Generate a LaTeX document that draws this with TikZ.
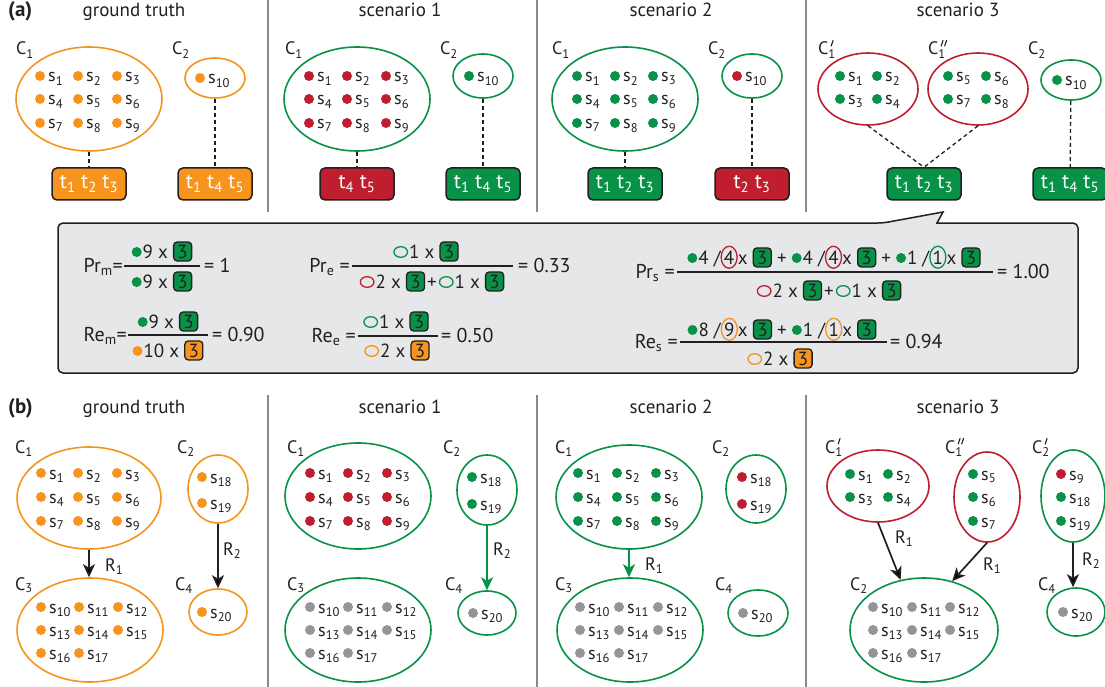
\documentclass[tikz,border=0pt]{standalone}
\usepackage{fontspec}
\setmainfont{PT Sans}
\usetikzlibrary{shapes.geometric,arrows.meta}
\definecolor{corange}{HTML}{F7941D}
\definecolor{cred}{HTML}{BE1E2D}
\definecolor{cgreen}{HTML}{079247}
\definecolor{cgray}{HTML}{939598}
\definecolor{cline}{HTML}{8A8A8A}
\definecolor{cbg}{HTML}{E6E7E8}
\definecolor{cdark}{HTML}{231F20}
% inline formula symbols
\newcommand\Fdot[1]{\tikz[x=1pt,y=1pt,baseline=-6pt]\fill[#1] (0,0) circle (5pt);}
\newcommand\Foell[1]{\tikz[x=1pt,y=1pt,baseline=-6pt]\draw[#1,line width=1.3pt] (0,0) ellipse [x radius=6.8pt, y radius=5.3pt];}
\newcommand\Fbox[1]{\tikz[x=1pt,y=1pt,baseline=0pt]\node[anchor=base, draw=cdark, fill=#1, line width=1.3pt, rounded corners=3.5pt, inner sep=0pt, minimum width=18pt, minimum height=19pt] (fbx) at (0,0) {3};}
\newcommand\Fcirc[2]{\tikz[x=1pt,y=1pt,baseline=0pt]\node[anchor=base, ellipse, draw=#1, line width=1.3pt, inner sep=0pt, minimum width=16pt, minimum height=22pt] (fcx) at (0,0) {#2};}
\newcommand\SD[4]{\fill[#1] (#2,#3) circle (5pt); \node[slab] at (#2+8,#3+6) {s\textsubscript{#4}};}
\newcommand\TT[3]{t\textsubscript{#1}\ t\textsubscript{#2}\ t\textsubscript{#3}}
\newcommand\Pl{\kern2pt+\kern2pt}
% prime strokes for a label whose base west is at (#1,#2)
\newcommand\PrA[2]{\draw[prm] (#1+15,#2-14.5) -- (#1+13.2,#2-9);}
\newcommand\PrB[2]{\draw[prm] (#1+15,#2-14.5) -- (#1+13.2,#2-9); \draw[prm] (#1+18.5,#2-14.5) -- (#1+16.7,#2-9);}
\begin{document}
\begin{tikzpicture}[x=1pt,y=-1pt,
  ttl/.style={font=\fontsize{19}{22}\selectfont, anchor=base, inner sep=0pt, text=cdark},
  plab/.style={font=\fontsize{21}{24}\selectfont\bfseries, anchor=base west, inner sep=0pt, text=cdark},
  clab/.style={font=\fontsize{18}{20}\selectfont, anchor=base west, inner sep=0pt, text=cdark},
  slab/.style={font=\fontsize{18}{20}\selectfont, text=cdark, anchor=base west, inner sep=0pt},
  prm/.style={draw=cdark, line width=1.1pt, line cap=round},
  cl/.style={ellipse, draw=#1, line width=1.6pt, inner sep=0pt},
  tb/.style={draw=cdark, fill=#1, line width=1.5pt, rounded corners=5pt, minimum width=74pt, minimum height=32pt, inner sep=0pt, text=white, font=\fontsize{21}{24}\selectfont},
  dl/.style={draw=cdark, line width=1.3pt, dash pattern=on 4pt off 3pt},
  ar/.style={draw=#1, line width=1.7pt, -{Stealth[length=13pt,width=12pt,inset=3.5pt]}},
  sepl/.style={draw=cline, line width=1.3pt},
  ff/.style={font=\fontsize{19}{22}\selectfont, inner sep=0pt, text=cdark},
  fr/.style={font=\fontsize{20}{22}\selectfont, inner sep=0pt, text=cdark},
  fl/.style={draw=cdark, line width=1.4pt}
]
\useasboundingbox (0,0) rectangle (1105,687);
\fill[white] (0,0) rectangle (1105,687);
\clip (0,0) rectangle (1105,687);

% ================= (a) =================
\node[plab] (pa) at (8,17) {(a)};
\node[ttl] (ta0) at (134,17) {ground truth};
\node[ttl] (ta1) at (400,17) {scenario 1};
\node[ttl] (ta2) at (671,17) {scenario 2};
\node[ttl] (ta3) at (958,17) {scenario 3};
\draw[sepl] (268,0) -- (268,212);
\draw[sepl] (537,0) -- (537,212);
\draw[sepl] (806,0) -- (806,212);

% ground truth
\node[clab] (la01) at (16,55) {C\textsubscript{1}};
\node[cl=corange, minimum width=146pt, minimum height=104pt] (ga1) at (89,99) {};
\SD{corange}{40}{76}{1} \SD{corange}{78}{76}{2} \SD{corange}{117}{76}{3}
\SD{corange}{40}{99}{4} \SD{corange}{78}{99}{5} \SD{corange}{117}{99}{6}
\SD{corange}{40}{123}{7} \SD{corange}{78}{123}{8} \SD{corange}{117}{123}{9}
\node[clab] (la02) at (172,55) {C\textsubscript{2}};
\node[cl=corange, minimum width=60pt, minimum height=40pt] (ga2) at (215,78) {};
\SD{corange}{200}{78}{10}
\node[tb=corange] (gb1) at (89,184) {\TT123};
\node[tb=corange] (gb2) at (215,184) {\TT145};
\draw[dl] (ga1) -- (gb1);
\draw[dl] (ga2) -- (gb2);

% scenario 1
\node[clab] (la11) at (285,55) {C\textsubscript{1}};
\node[cl=cgreen, minimum width=146pt, minimum height=104pt] (sa1) at (357,99) {};
\SD{cred}{309}{76}{1} \SD{cred}{347}{76}{2} \SD{cred}{386}{76}{3}
\SD{cred}{309}{99}{4} \SD{cred}{347}{99}{5} \SD{cred}{386}{99}{6}
\SD{cred}{309}{123}{7} \SD{cred}{347}{123}{8} \SD{cred}{386}{123}{9}
\node[clab] (la12) at (440,55) {C\textsubscript{2}};
\node[cl=cgreen, minimum width=60pt, minimum height=44pt] (sa2) at (483,76) {};
\SD{cgreen}{469}{76}{10}
\node[tb=cred] (sb1) at (357,184) {t\textsubscript{4}\ t\textsubscript{5}};
\node[tb=cgreen] (sb2) at (483,184) {\TT145};
\draw[dl] (sa1) -- (sb1);
\draw[dl] (sa2) -- (sb2);

% scenario 2
\node[clab] (la21) at (552,55) {C\textsubscript{1}};
\node[cl=cgreen, minimum width=146pt, minimum height=104pt] (ta1e) at (625,99) {};
\SD{cgreen}{577}{76}{1} \SD{cgreen}{615}{76}{2} \SD{cgreen}{653}{76}{3}
\SD{cgreen}{577}{99}{4} \SD{cgreen}{615}{99}{5} \SD{cgreen}{653}{99}{6}
\SD{cgreen}{577}{123}{7} \SD{cgreen}{615}{123}{8} \SD{cgreen}{653}{123}{9}
\node[clab] (la22) at (708,55) {C\textsubscript{2}};
\node[cl=cgreen, minimum width=60pt, minimum height=44pt] (ta2e) at (752,76) {};
\SD{cred}{737}{76}{10}
\node[tb=cgreen] (tb1) at (625,184) {\TT123};
\node[tb=cred] (tb2) at (752,184) {t\textsubscript{2}\ t\textsubscript{3}};
\draw[dl] (ta1e) -- (tb1);
\draw[dl] (ta2e) -- (tb2);

% scenario 3
\node[clab] (la31) at (818,55) {C\textsubscript{1}};
\PrA{818}{55}
\node[cl=cred, minimum width=100pt, minimum height=72pt] (ua1) at (868,89) {};
\SD{cgreen}{840}{76}{1} \SD{cgreen}{877}{76}{2}
\SD{cgreen}{840}{99}{3} \SD{cgreen}{877}{99}{4}
\node[clab] (la32) at (928,55) {C\textsubscript{1}};
\PrB{928}{55}
\node[cl=cred, minimum width=100pt, minimum height=72pt] (ua2) at (978,89) {};
\SD{cgreen}{948}{76}{5} \SD{cgreen}{986}{76}{6}
\SD{cgreen}{948}{99}{7} \SD{cgreen}{986}{99}{8}
\node[clab] (la33) at (1028,55) {C\textsubscript{2}};
\node[cl=cgreen, minimum width=60pt, minimum height=40pt] (ua3) at (1071,80) {};
\SD{cgreen}{1057}{80}{10}
\node[tb=cgreen] (ub1) at (924,184) {\TT123};
\node[tb=cgreen] (ub2) at (1070,184) {\TT145};
\draw[dl] (ua1.south) -- (ub1.north);
\draw[dl] (ua2.south) -- (ub1.north);
\draw[dl] (ua3) -- (ub2);

% formula box
\draw[fill=cbg, draw=cdark, line width=1.5pt, rounded corners=5pt] (58,300) -- (58,223) -- (883,223) [sharp corners] -- (943,212) -- (937,223) [rounded corners=5pt] -- (1078,223) -- (1078,373) -- (58,373) -- cycle;

% Pr_m
\node[fr, anchor=base east] (prm) at (123,272) {Pr\textsubscript{m}=};
\draw[fl] (124,266) -- (200,266);
\node[ff, anchor=base] (prmn) at (162,258) {\Fdot{cgreen}\kern1pt9 x \Fbox{cgreen}};
\node[ff, anchor=base] (prmd) at (162,288) {\Fdot{cgreen}\kern1pt9 x \Fbox{cgreen}};
\node[fr, anchor=base west] (prmr) at (204,272) {= 1};
% Re_m
\node[fr, anchor=base east] (rem) at (127,341) {Re\textsubscript{m}=};
\draw[fl] (128,335) -- (208,335);
\node[ff, anchor=base] (remn) at (168,328) {\Fdot{cgreen}\kern1pt9 x \Fbox{cgreen}};
\node[ff, anchor=base] (remd) at (168,357) {\Fdot{corange}\kern1pt10 x \Fbox{corange}};
\node[fr, anchor=base west] (remr) at (212,341) {= 0.90};
% Pr_e
\node[fr, anchor=base east] (pre) at (350,272) {Pr\textsubscript{e} =};
\draw[fl] (352,266) -- (513,266);
\node[ff, anchor=base] (pren) at (426,258) {\Foell{cgreen}\kern1pt1 x \Fbox{cgreen}};
\node[ff, anchor=base] (pred) at (432,288) {\Foell{cred}\kern1pt2 x \Fbox{cgreen}\Pl\Foell{cgreen}\kern1pt1 x \Fbox{cgreen}};
\node[fr, anchor=base west] (prer) at (518,272) {= 0.33};
% Re_e
\node[fr, anchor=base east] (ree) at (356,342) {Re\textsubscript{e} =};
\draw[fl] (358,336) -- (438,336);
\node[ff, anchor=base] (reen) at (396,328) {\Foell{cgreen}\kern1pt1 x \Fbox{cgreen}};
\node[ff, anchor=base] (reed) at (397,357) {\Foell{corange}\kern1pt2 x \Fbox{corange}};
\node[fr, anchor=base west] (reer) at (441,342) {= 0.50};
% Pr_s
\node[fr, anchor=base east] (prs) at (675,278) {Pr\textsubscript{s} =};
\draw[fl] (677,272) -- (993,272);
\node[ff, anchor=base] (prsn) at (834,264) {\Fdot{cgreen}\kern1pt4 /\Fcirc{cred}{4}x \Fbox{cgreen} + \Fdot{cgreen}\kern1pt4 /\Fcirc{cred}{4}x \Fbox{cgreen} + \Fdot{cgreen}\kern1pt1 /\Fcirc{cgreen}{1}x \Fbox{cgreen}};
\node[ff, anchor=base] (prsd) at (829,297) {\Foell{cred}\kern1pt2 x \Fbox{cgreen}\Pl\Foell{cgreen}\kern1pt1 x \Fbox{cgreen}};
\node[fr, anchor=base west] (prsr) at (997,278) {= 1.00};
% Re_s
\node[fr, anchor=base east] (res) at (678,348) {Re\textsubscript{s} =};
\draw[fl] (680,342) -- (887,342);
\node[ff, anchor=base] (resn) at (782,336) {\Fdot{cgreen}\kern1pt8 /\Fcirc{corange}{9}x \Fbox{cgreen} + \Fdot{cgreen}\kern1pt1 /\Fcirc{corange}{1}x \Fbox{cgreen}};
\node[ff, anchor=base] (resd) at (780,365) {\Foell{corange}\kern1pt2 x \Fbox{corange}};
\node[fr, anchor=base west] (resr) at (890,348) {= 0.94};

% ================= (b) =================
\node[plab] (pb) at (8,413) {(b)};
\node[ttl] (tb0) at (134,413) {ground truth};
\node[ttl] (tbt1) at (400,413) {scenario 1};
\node[ttl] (tbt2) at (671,413) {scenario 2};
\node[ttl] (tbt3) at (958,413) {scenario 3};
\draw[sepl] (268,395) -- (268,687);
\draw[sepl] (537,395) -- (537,687);
\draw[sepl] (806,395) -- (806,687);

% ground truth
\node[clab] (lb01) at (15,453) {C\textsubscript{1}};
\node[cl=corange, minimum width=144pt, minimum height=102pt] (gc1) at (89,498) {};
\SD{corange}{41}{473}{1} \SD{corange}{78}{473}{2} \SD{corange}{117}{473}{3}
\SD{corange}{41}{497}{4} \SD{corange}{78}{497}{5} \SD{corange}{117}{497}{6}
\SD{corange}{41}{521}{7} \SD{corange}{78}{521}{8} \SD{corange}{117}{521}{9}
\node[clab] (lb03) at (15,590) {C\textsubscript{3}};
\node[cl=corange, minimum width=146pt, minimum height=104pt] (gc3) at (90,630) {};
\SD{corange}{41}{607}{10} \SD{corange}{79}{607}{11} \SD{corange}{118}{607}{12}
\SD{corange}{41}{630}{13} \SD{corange}{79}{630}{14} \SD{corange}{118}{630}{15}
\SD{corange}{41}{653}{16} \SD{corange}{79}{653}{17}
\node[clab] (lb02) at (177,453) {C\textsubscript{2}};
\node[cl=corange, minimum width=60pt, minimum height=68pt] (gc2) at (218,489) {};
\SD{corange}{202}{477}{18} \SD{corange}{202}{503}{19}
\node[clab] (lb04) at (175,590) {C\textsubscript{4}};
\node[cl=corange, minimum width=58pt, minimum height=46pt] (gc4) at (218,612) {};
\SD{corange}{202}{612}{20}
\draw[ar=cdark] (gc1.south) -- (gc1.south |- gc3.north);
\node[clab] (gr1) at (105,571) {R\textsubscript{1}};
\draw[ar=cdark] (gc2) -- (gc4);
\node[clab] (gr2) at (223,555) {R\textsubscript{2}};

% scenario 1
\node[clab] (lb11) at (287,453) {C\textsubscript{1}};
\node[cl=cgreen, minimum width=146pt, minimum height=106pt] (hc1) at (358,496) {};
\SD{cred}{310}{473}{1} \SD{cred}{348}{473}{2} \SD{cred}{387}{473}{3}
\SD{cred}{310}{497}{4} \SD{cred}{348}{497}{5} \SD{cred}{387}{497}{6}
\SD{cred}{310}{521}{7} \SD{cred}{348}{521}{8} \SD{cred}{387}{521}{9}
\node[clab] (lb13) at (287,590) {C\textsubscript{3}};
\node[cl=cgreen, minimum width=146pt, minimum height=104pt] (hc3) at (358,630) {};
\SD{cgray}{310}{607}{10} \SD{cgray}{348}{607}{11} \SD{cgray}{387}{607}{12}
\SD{cgray}{310}{630}{13} \SD{cgray}{348}{630}{14} \SD{cgray}{387}{630}{15}
\SD{cgray}{310}{653}{16} \SD{cgray}{348}{653}{17}
\node[clab] (lb12) at (443,453) {C\textsubscript{2}};
\node[cl=cgreen, minimum width=60pt, minimum height=70pt] (hc2) at (487,490) {};
\SD{cgreen}{472}{477}{18} \SD{cgreen}{472}{504}{19}
\node[clab] (lb14) at (445,590) {C\textsubscript{4}};
\node[cl=cgreen, minimum width=58pt, minimum height=44pt] (hc4) at (487,613) {};
\SD{cgray}{473}{613}{20}
\draw[ar=cgreen] (hc2) -- (hc4);
\node[clab] (hr2) at (493,555) {R\textsubscript{2}};

% scenario 2
\node[clab] (lb21) at (555,453) {C\textsubscript{1}};
\node[cl=cgreen, minimum width=146pt, minimum height=104pt] (ic1) at (629,497) {};
\SD{cgreen}{578}{473}{1} \SD{cgreen}{617}{473}{2} \SD{cgreen}{656}{473}{3}
\SD{cgreen}{578}{497}{4} \SD{cgreen}{617}{497}{5} \SD{cgreen}{656}{497}{6}
\SD{cgreen}{578}{521}{7} \SD{cgreen}{617}{521}{8} \SD{cgreen}{656}{521}{9}
\node[clab] (lb23) at (555,590) {C\textsubscript{3}};
\node[cl=cgreen, minimum width=146pt, minimum height=104pt] (ic3) at (630,630) {};
\SD{cgray}{580}{607}{10} \SD{cgray}{619}{607}{11} \SD{cgray}{658}{607}{12}
\SD{cgray}{580}{630}{13} \SD{cgray}{619}{630}{14} \SD{cgray}{658}{630}{15}
\SD{cgray}{580}{653}{16} \SD{cgray}{619}{653}{17}
\node[clab] (lb22) at (712,453) {C\textsubscript{2}};
\node[cl=cgreen, minimum width=60pt, minimum height=68pt] (ic2) at (756,489) {};
\SD{cred}{742}{477}{18} \SD{cred}{742}{504}{19}
\node[clab] (lb24) at (715,590) {C\textsubscript{4}};
\node[cl=cgreen, minimum width=60pt, minimum height=46pt] (ic4) at (758,613) {};
\SD{cgray}{743}{613}{20}
\draw[ar=cgreen] (ic1.south) -- (ic1.south |- ic3.north);
\node[clab] (ir1) at (645,570) {R\textsubscript{1}};

% scenario 3
\node[clab] (lb31) at (825,453) {C\textsubscript{1}};
\PrA{825}{453}
\node[cl=cred, minimum width=102pt, minimum height=72pt] (jc1) at (878,486) {};
\SD{cgreen}{850}{474}{1} \SD{cgreen}{888}{474}{2}
\SD{cgreen}{850}{497}{3} \SD{cgreen}{888}{497}{4}
\node[clab] (lb32) at (945,453) {C\textsubscript{1}};
\PrB{945}{453}
\node[cl=cred, minimum width=66pt, minimum height=90pt] (jc1b) at (987,497) {};
\SD{cgreen}{973}{474}{5} \SD{cgreen}{973}{497}{6} \SD{cgreen}{973}{521}{7}
\node[clab] (lb33) at (1032,453) {C\textsubscript{2}};
\PrA{1032}{453}
\node[cl=cgreen, minimum width=64pt, minimum height=92pt] (jc2p) at (1073,496) {};
\SD{cred}{1061}{474}{9} \SD{cgreen}{1061}{497}{18} \SD{cgreen}{1061}{521}{19}
\node[clab] (lb34) at (850,590) {C\textsubscript{2}};
\node[cl=cgreen, minimum width=148pt, minimum height=104pt] (jc2) at (924,630) {};
\SD{cgray}{873}{607}{10} \SD{cgray}{912}{607}{11} \SD{cgray}{950}{607}{12}
\SD{cgray}{873}{630}{13} \SD{cgray}{912}{630}{14} \SD{cgray}{950}{630}{15}
\SD{cgray}{873}{653}{16} \SD{cgray}{912}{653}{17}
\node[clab] (lb35) at (1038,590) {C\textsubscript{4}};
\node[cl=cgreen, minimum width=58pt, minimum height=48pt] (jc4) at (1076,612) {};
\SD{cgray}{1063}{612}{20}
\draw[ar=cdark] (jc1.south) -- (jc2.115);
\node[clab] (jr1) at (895,543) {R\textsubscript{1}};
\draw[ar=cdark] (jc1b.south) -- (jc2.60);
\node[clab] (jr1b) at (983,570) {R\textsubscript{1}};
\draw[ar=cdark] (jc2p.south) -- (jc2p.south |- jc4.north);
\node[clab] (jr2) at (1082,565) {R\textsubscript{2}};
\end{tikzpicture}
\end{document}
